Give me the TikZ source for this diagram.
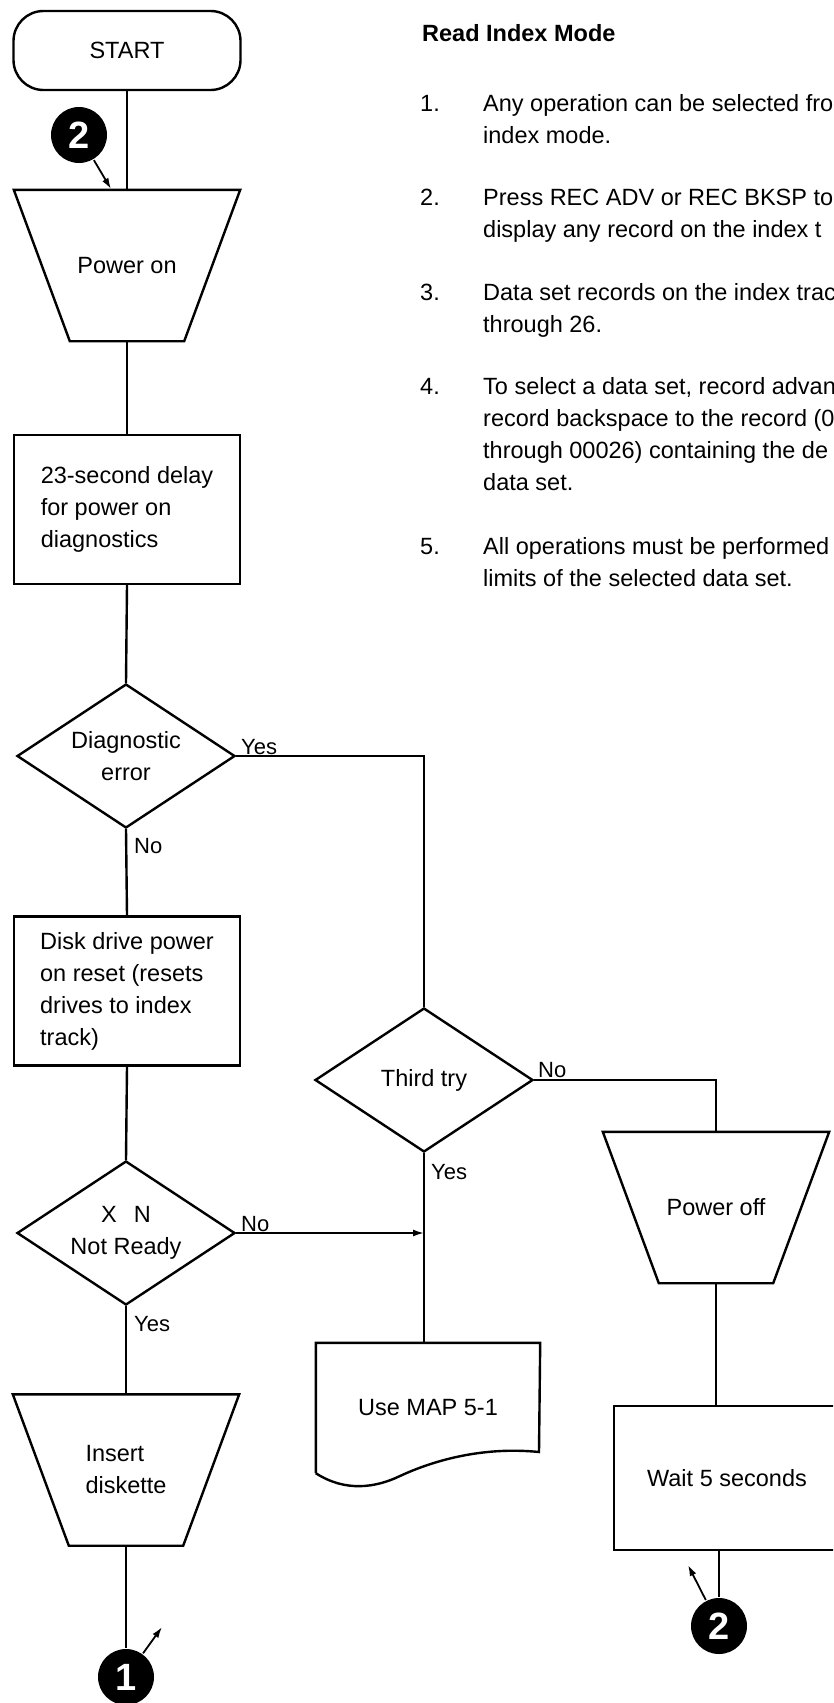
\documentclass[tikz,border=0pt]{standalone}
\usepackage{fontspec}
\setmainfont{Liberation Sans}
\usetikzlibrary{shapes.geometric,arrows.meta,calc}
\begin{document}
\begin{tikzpicture}[x=1pt,y=-1pt,
  line width=2.4pt,
  every node/.style={font=\fontsize{23.5}{32}\selectfont},
  term/.style={draw, rectangle, rounded corners=30pt, minimum width=227pt, minimum height=79pt, inner sep=0pt},
  boxnode/.style={draw, rectangle, minimum width=226pt, minimum height=149pt, align=left, inner sep=0pt},
  trapnode/.style={rectangle, minimum width=224pt, minimum height=149pt, inner sep=0pt, align=left},
  docnode/.style={rectangle, minimum width=222pt, minimum height=128pt, inner sep=0pt},
  decision/.style={draw, diamond, aspect=1.5, minimum width=218pt, minimum height=144pt, inner sep=0pt, align=center},
  conn/.style={circle, fill=black, minimum size=56pt, inner sep=0pt, text=white, font=\fontsize{38}{38}\selectfont\bfseries},
  lbl/.style={anchor=base west, inner sep=0pt, font=\fontsize{22}{26}\selectfont},
  txt/.style={anchor=base west, inner sep=0pt},
  ptr/.style={line width=1.8pt, -{Latex[length=11pt,width=7pt]}},
]
\fill[white] (0,0) rectangle (833,1703);
\path[use as bounding box] (0,0) rectangle (833,1703);
\clip (0,0) rectangle (833,1703);

% ---------- flowchart nodes ----------
\node[term] (start) at (127,50.5) {START};
\node[trapnode] (pon) at (127,265.5) {Power on};
\node[boxnode] (delay) at (127,509.5) {23-second delay\\for power on\\diagnostics};
\node[decision] (diag) at (126,756) {Diagnostic\\error};
\node[boxnode] (disk) at (127,991) {Disk drive power\\on reset (resets\\drives to index\\track)};
\node[decision] (tt) at (424,1080) {Third try};
\node[decision] (xn) at (126,1233) {X\hspace{17pt}N\\Not Ready};
\node[trapnode] (poff) at (716,1207.5) {Power off};
\node[trapnode] (ins) at (126,1470) {Insert\\diskette};
\node[docnode] (umap) at (428,1408) {Use MAP 5-1\hspace{20pt}};
\node[boxnode, align=center, minimum height=144pt] (wait) at (727,1478) {Wait 5 seconds};
\node[conn] (c2a) at (79,135) {2};
\node[conn] (c1) at (126,1677) {1};
\node[conn] (c2b) at (719,1626) {2};

% trapezoid outlines (manual operations)
\foreach \n in {pon,poff,ins}
  \draw (\n.north west) -- (\n.north east) -- ([xshift=-56pt]\n.south east) -- ([xshift=56pt]\n.south west) -- cycle;

% document outline
\draw (umap.south west) -- (umap.north west) -- (umap.north east) -- (539,1452)
  .. controls (480,1446) and (430,1462) .. (400,1476)
  .. controls (375,1488) and (345,1492) .. (umap.south west);

% ---------- connectors ----------
\draw (start.south) -- (pon.north);
\draw (pon.south) -- (delay.north);
\draw (delay.south) -- (diag.north);
\draw (diag.south) -- (disk.north);
\draw (diag.east) -| (tt.north);
\draw (disk.south) -- (xn.north);
\draw (xn.south) -- (ins.north);
\draw (ins.south) -- (c1.north);
\draw[ptr] (xn.east) -- (xn.east -| tt.south);
\draw (tt.south) -- (tt.south |- umap.north);
\draw (tt.east) -| (poff.north);
\draw (poff.south) -- (poff.south |- wait.north);
\draw (c2b.north) -- (c2b.north |- wait.south);

% off-page connector pointers
\coordinate (p2a) at (111,189);
\coordinate (p1) at (162,1627);
\coordinate (p2b) at (688,1565);
\draw[ptr] (c2a) -- (p2a);
\draw[ptr] (c1) -- (p1);
\draw[ptr] (c2b) -- (p2b);

% ---------- branch labels ----------
\node[lbl] (ly1) at (240,754) {Yes};
\node[lbl] (ln1) at (133,853) {No};
\node[lbl] (ln2) at (537,1077) {No};
\node[lbl] (ly2) at (430,1179) {Yes};
\node[lbl] (ln3) at (240,1231) {No};
\node[lbl] (ly3) at (133,1331) {Yes};

% ---------- notes ----------
\node[txt] (title) at (421,41) {\bfseries Read Index Mode};
\node[txt] (n1) at (419,111) {1.};
\node[txt] (n2) at (419,205) {2.};
\node[txt] (n3) at (419,300) {3.};
\node[txt] (n4) at (419,394) {4.};
\node[txt] (n5) at (419,554) {5.};
\node[txt] (t1a) at (482,111) {Any operation can be selected fro};
\node[txt] (t1b) at (482,143) {index mode.};
\node[txt] (t2a) at (482,205) {Press REC ADV or REC BKSP to};
\node[txt] (t2b) at (482,237) {display any record on the index t};
\node[txt] (t3a) at (482,300) {Data set records on the index trac};
\node[txt] (t3b) at (482,332) {through 26.};
\node[txt] (t4a) at (482,394) {To select a data set, record advan};
\node[txt] (t4b) at (482,426) {record backspace to the record (0};
\node[txt] (t4c) at (482,458) {through 00026) containing the de};
\node[txt] (t4d) at (482,490) {data set.};
\node[txt] (t5a) at (482,554) {All operations must be performed};
\node[txt] (t5b) at (482,586) {limits of the selected data set.};
\end{tikzpicture}
\end{document}
